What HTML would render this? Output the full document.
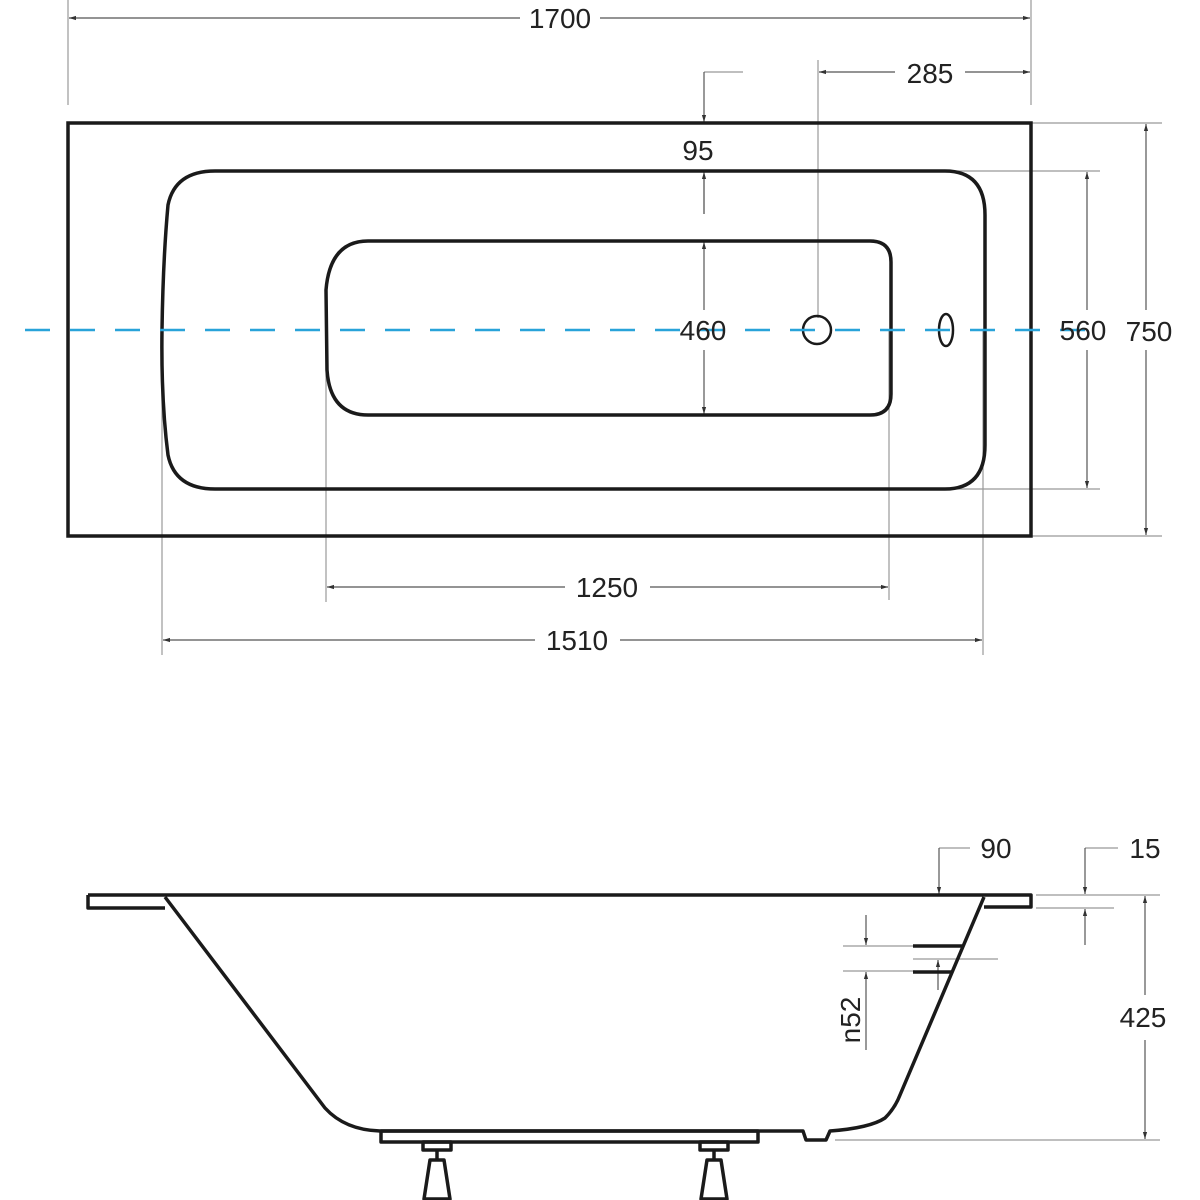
<!DOCTYPE html>
<html><head><meta charset="utf-8"><style>
html,body{margin:0;padding:0;background:#fff;}
svg{display:block;}
text{font-family:"Liberation Sans",sans-serif;font-size:28px;fill:#222;}
</style></head><body>
<svg width="1200" height="1200" viewBox="0 0 1200 1200" xmlns="http://www.w3.org/2000/svg">
<defs>
<marker id="a" viewBox="0 0 10 10" refX="10" refY="5" markerWidth="6" markerHeight="6" orient="auto-start-reverse"><path d="M0,2 L10,5 L0,8 z" fill="#333"/></marker>
</defs>
<rect width="1200" height="1200" fill="#fff"/>
<!-- thin dimension lines -->
<g stroke="#999" stroke-width="1.2" fill="none">
<line x1="68" y1="0" x2="68" y2="105"/>
<line x1="1031" y1="0" x2="1031" y2="105"/>
<line x1="818" y1="60" x2="818" y2="318"/>
<line x1="940" y1="171" x2="1100" y2="171"/>
<line x1="940" y1="489" x2="1100" y2="489"/>
<line x1="1031" y1="123" x2="1162" y2="123"/>
<line x1="1031" y1="536" x2="1162" y2="536"/>
<line x1="326" y1="310" x2="326" y2="602"/>
<line x1="889" y1="330" x2="889" y2="600"/>
<line x1="162" y1="330" x2="162" y2="655"/>
<line x1="983" y1="330" x2="983" y2="655"/>
<line x1="704" y1="72" x2="743" y2="72"/>
<line x1="704" y1="214" x2="704" y2="174"/>
<line x1="1036" y1="895" x2="1160" y2="895"/>
<line x1="1036" y1="908" x2="1114" y2="908"/>
<line x1="835" y1="1140" x2="1160" y2="1140"/>
<line x1="939" y1="848" x2="970" y2="848"/>
<line x1="1085" y1="848" x2="1118" y2="848"/>
<line x1="843" y1="946" x2="915" y2="946"/>
<line x1="843" y1="971" x2="915" y2="971"/>
<line x1="913" y1="959" x2="998" y2="959"/>
</g>
<g stroke="#555" stroke-width="1.2" fill="none" marker-end="url(#a)">
<line x1="520" y1="18" x2="69" y2="18"/>
<line x1="600" y1="18" x2="1030" y2="18"/>
<line x1="895" y1="72" x2="819" y2="72"/>
<line x1="965" y1="72" x2="1030" y2="72"/>
<line x1="704" y1="72" x2="704" y2="122"/>
<line x1="704" y1="214" x2="704" y2="172"/>
<line x1="704" y1="310" x2="704" y2="242"/>
<line x1="704" y1="350" x2="704" y2="414"/>
<line x1="1087" y1="310" x2="1087" y2="172"/>
<line x1="1087" y1="350" x2="1087" y2="488"/>
<line x1="1146" y1="310" x2="1146" y2="124"/>
<line x1="1146" y1="350" x2="1146" y2="535"/>
<line x1="565" y1="587" x2="327" y2="587"/>
<line x1="650" y1="587" x2="888" y2="587"/>
<line x1="535" y1="640" x2="163" y2="640"/>
<line x1="620" y1="640" x2="982" y2="640"/>
<line x1="939" y1="848" x2="939" y2="894"/>
<line x1="1085" y1="848" x2="1085" y2="894"/>
<line x1="1085" y1="945" x2="1085" y2="909"/>
<line x1="1145" y1="995" x2="1145" y2="896"/>
<line x1="1145" y1="1040" x2="1145" y2="1139"/>
<line x1="866" y1="915" x2="866" y2="945"/>
<line x1="866" y1="1050" x2="866" y2="972"/>
<line x1="938" y1="990" x2="938" y2="960"/>
</g>
<!-- plan -->
<g stroke="#1a1a1a" stroke-width="3.5" fill="none">
<rect x="68" y="97" width="0" height="0"/>
<rect x="68" y="123" width="963" height="413"/>
<path d="M215,171 L945,171 Q985,171 985,215 L985,445 Q985,489 945,489 L215,489 Q175,489 168,455 Q161,400 162,330 Q163,260 168,205 Q175,171 215,171 Z"/>
<path d="M368,241 L870,241 Q891,241 891,262 L891,394 Q891,415 870,415 L368,415 Q330,415 327,370 L326,290 Q330,241 368,241 Z"/>
</g>
<g stroke="#1a1a1a" stroke-width="2.5" fill="none">
<circle cx="817" cy="330" r="14"/>
<ellipse cx="946" cy="330" rx="7" ry="16"/>
</g>
<line x1="25" y1="330" x2="1100" y2="330" stroke="#29a3d9" stroke-width="2.5" stroke-dasharray="25,20"/>
<!-- side view -->
<g stroke="#1a1a1a" stroke-width="3.5" fill="none" stroke-linejoin="round">
<path d="M88,895 L1031,895 L1031,907 L984,907"/>
<path d="M88,895 L88,908 L165,908"/>
<path d="M165,897 L325,1108 Q345,1130 380,1131 L803,1131 L806,1140 L826,1140 L830,1131 Q870,1128 885,1118 Q895,1108 900,1095 L984,897"/>
<rect x="381" y="1131" width="377" height="11"/>
<rect x="423" y="1142" width="28" height="8"/>
<rect x="700" y="1142" width="28" height="8"/>
<line x1="437" y1="1150" x2="437" y2="1160"/>
<line x1="714" y1="1150" x2="714" y2="1160"/>
<path d="M430,1160 L444,1160 L450,1199 L424,1199 Z"/>
<path d="M707,1160 L721,1160 L727,1199 L701,1199 Z"/>
<line x1="913" y1="946" x2="962" y2="946"/>
<line x1="913" y1="972" x2="953" y2="972"/>
</g>
<!-- labels -->
<g text-anchor="middle">
<text x="560" y="28">1700</text>
<text x="930" y="83">285</text>
<text x="698" y="160">95</text>
<text x="703" y="340">460</text>
<text x="1083" y="340">560</text>
<text x="1149" y="341">750</text>
<text x="607" y="597">1250</text>
<text x="577" y="650">1510</text>
<text x="996" y="858">90</text>
<text x="1145" y="858">15</text>
<text x="1143" y="1027">425</text>
<text transform="translate(860,1020) rotate(-90)">n52</text>
</g>
</svg>
</body></html>
